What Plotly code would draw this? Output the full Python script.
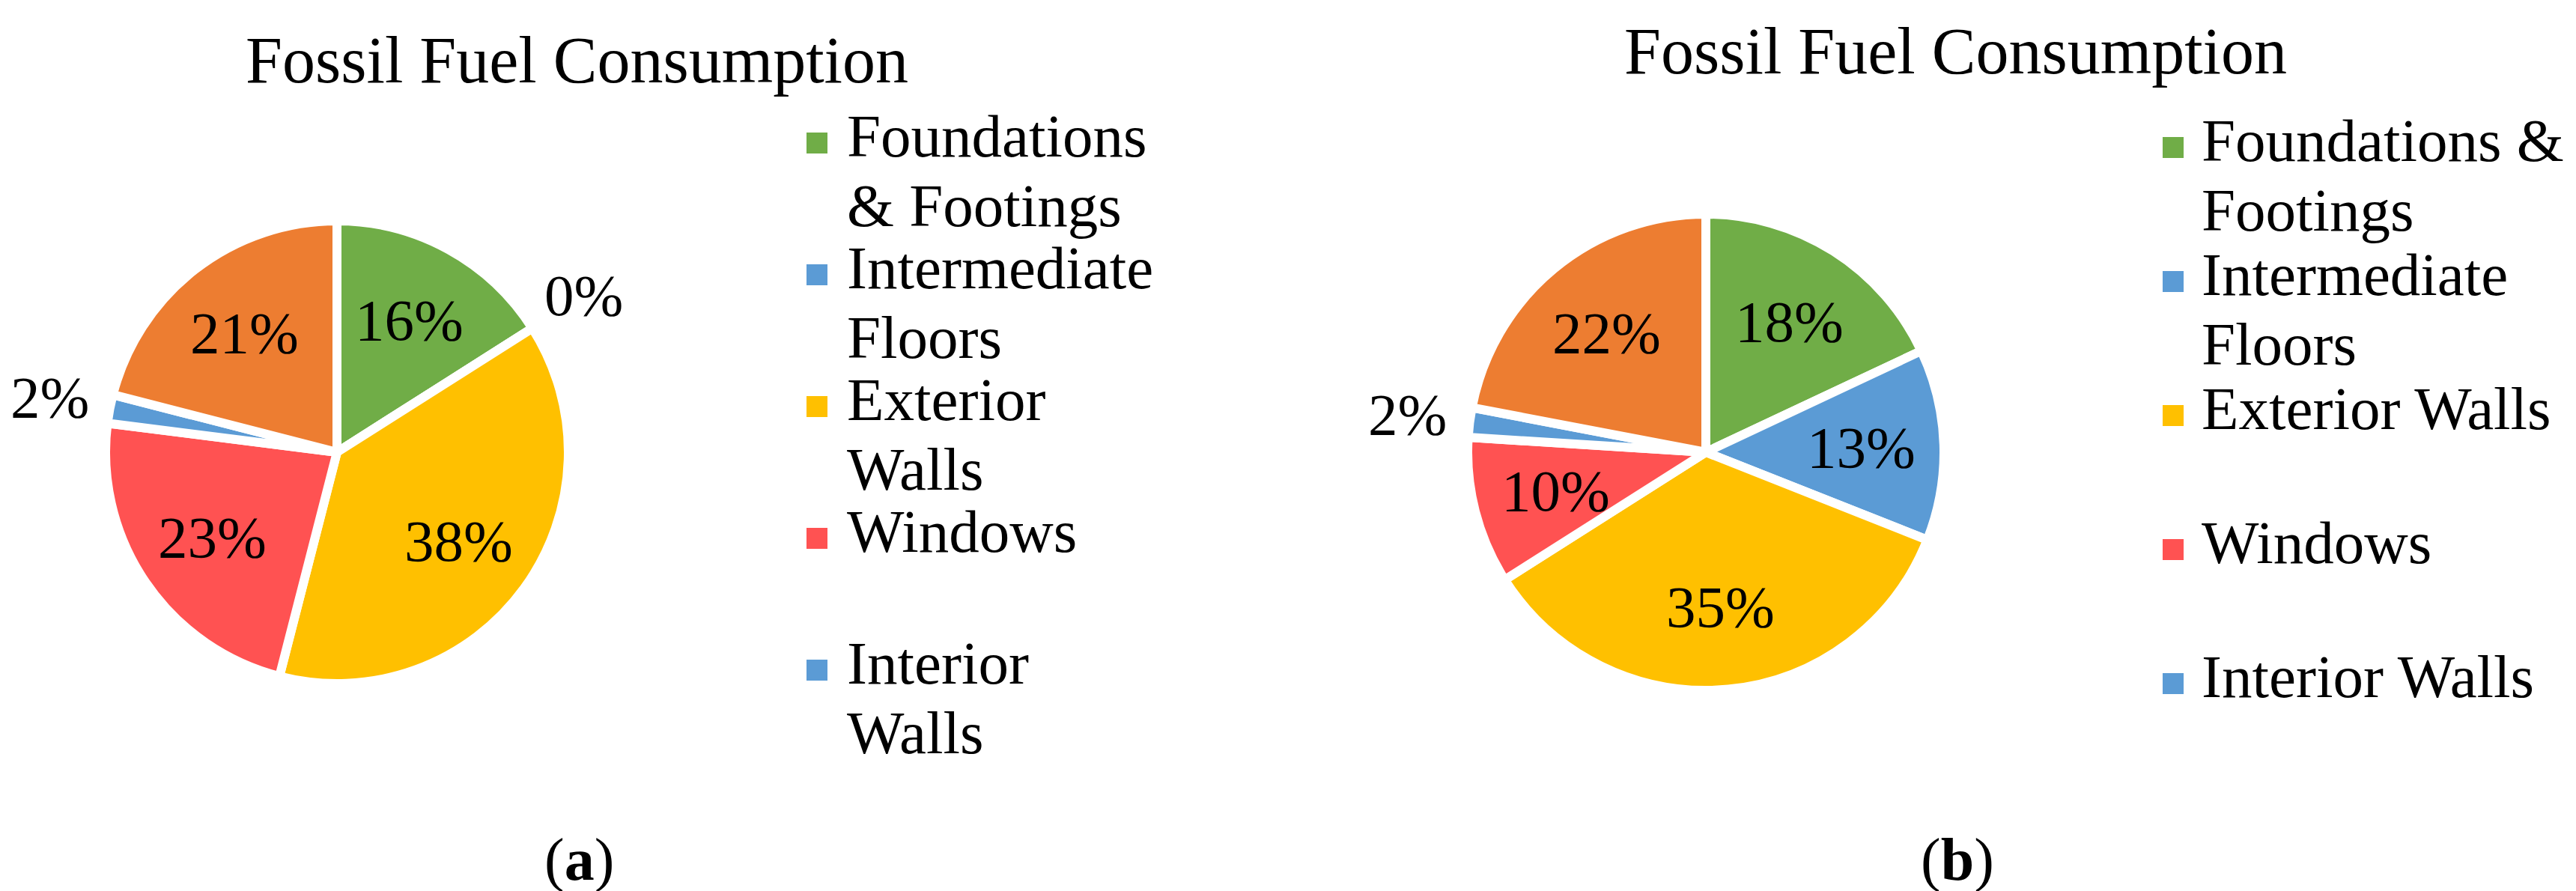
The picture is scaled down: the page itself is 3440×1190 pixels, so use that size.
import math
import plotly.graph_objects as go

# ---- data ----
categories = ["Foundations & Footings", "Intermediate Floors", "Exterior Walls",
              "Windows", "Interior Walls", "Roof"]
share_a = [16, 0, 38, 23, 2, 21]
share_b = [18, 13, 35, 10, 2, 22]
colors = ["#70AD47", "#5B9BD5", "#FFC000", "#FF5252", "#5B9BD5", "#ED7D31"]

chart_title = "Fossil Fuel Consumption"

# legend text as it wraps in each panel ("" = empty line)
legend_a = [["Foundations", "& Footings"], ["Intermediate", "Floors"],
            ["Exterior", "Walls"], ["Windows", ""], ["Interior", "Walls"]]
legend_b = [["Foundations &", "Footings"], ["Intermediate", "Floors"],
            ["Exterior Walls", ""], ["Windows", ""], ["Interior Walls", ""]]

W, H = 3440, 1190
FONT = "Liberation Serif, Times New Roman, serif"
FS = 79


def px(x, y):
    # pixel (from top-left) -> paper fraction
    return x / W, 1 - y / H


def pie_domain(cx, cy, r):
    return dict(x=[(cx - r) / W, (cx + r) / W],
                y=[1 - (cy + r) / H, 1 - (cy - r) / H])


annotations = []
shapes = []


def add_text(x, y, text, size=FS, xanchor="left"):
    xp, yp = px(x, y)
    annotations.append(dict(x=xp, y=yp, xref="paper", yref="paper", text=text,
                            showarrow=False, xanchor=xanchor, yanchor="middle",
                            font=dict(family=FONT, size=size, color="black")))


def add_slice_labels(vals, cx, cy, r):
    # excel style: label on the slice bisector, inside or just outside
    total = float(sum(vals))
    start = 0.0
    for v in vals:
        mid = math.radians((start + v / 2.0) / total * 360.0)
        start += v
        f = 1.28 if v < 5 else 0.66
        add_text(cx + f * r * math.sin(mid), cy - f * r * math.cos(mid),
                 f"{v}%", xanchor="center")


fig = go.Figure()

for vals, (cx, cy, r) in [(share_a, (442, 596, 309)), (share_b, (2270, 596, 318))]:
    fig.add_trace(go.Pie(
        labels=categories,
        values=vals,
        sort=False,
        direction="clockwise",
        rotation=0,
        marker=dict(colors=colors, line=dict(color="white", width=12)),
        textinfo="none",
        domain=pie_domain(cx, cy, r),
        showlegend=False,
        hoverinfo="label+percent",
    ))
    add_slice_labels(vals, cx, cy, r - 4)


def add_legend(entries, x_box, x_text, y0, step_in, step_between, box=28):
    y = y0
    for i, lines in enumerate(entries):
        col = colors[i]
        x0, y_top = px(x_box, y + 3 - box / 2)
        x1, y_bot = px(x_box + box, y + 3 + box / 2)
        shapes.append(dict(type="rect", xref="paper", yref="paper",
                           x0=x0, x1=x1, y0=y_bot, y1=y_top,
                           fillcolor=col, line=dict(width=0)))
        for j, line in enumerate(lines):
            if line:
                add_text(x_text, y - 6, line, size=81)
            if j < len(lines) - 1:
                y += step_in
        y += step_between


add_legend(legend_a, 1069, 1121, 180, 93, 83)
add_legend(legend_b, 2880, 2930, 186, 93, 86)

add_text(762, 72, chart_title, size=88, xanchor="center")
add_text(2603, 60, chart_title, size=88, xanchor="center")
add_text(765, 1140, "(<b>a</b>)", size=80, xanchor="center")
add_text(2606, 1140, "(<b>b</b>)", size=80, xanchor="center")

fig.update_layout(
    width=W, height=H,
    margin=dict(l=0, r=0, t=0, b=0),
    paper_bgcolor="white",
    plot_bgcolor="white",
    annotations=annotations,
    shapes=shapes,
    font=dict(family=FONT),
)

fig.write_html("out.html")
